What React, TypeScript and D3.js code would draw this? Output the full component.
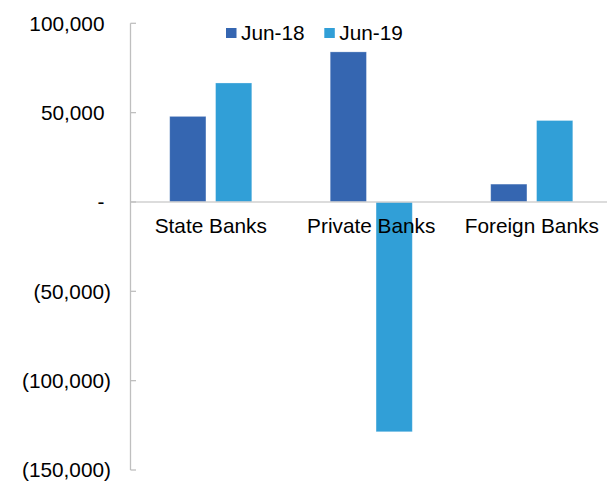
import React from "react";
import * as d3 from "d3";

const categories = ["State Banks", "Private Banks", "Foreign Banks"];
const seriesNames = ["Jun-18", "Jun-19"];
const jun18 = [47900, 84000, 10000];
const jun19 = [66600, -128600, 45600];
const yTicks = [100000, 50000, 0, -50000, -100000, -150000];
const colors = ["#3566B1", "#319FD7"];

const W = 607;
const H = 481;
const FONT = "'Liberation Sans', Arial, sans-serif";
const FS = 20.8;

function fmt(v: number): string {
  if (v === 0) return "-";
  const s = d3.format(",")(Math.abs(v));
  return v < 0 ? `(${s})` : s;
}

export default function App() {
  const series = [jun18, jun19];
  const y = d3.scaleLinear().domain([-150000, 100000]).range([470, 23.3]);
  const x0 = d3.scaleBand<string>().domain(categories).range([130.5, 612]).padding(0);
  const x1 = d3
    .scaleBand<string>()
    .domain(seriesNames)
    .range([0, x0.bandwidth()])
    .paddingInner(0.21)
    .paddingOuter(0.855);
  const axisX = 130.5;

  return (
    <svg
      width={W}
      height={H}
      style={{ position: "absolute", left: 0, top: 0, background: "#fff" }}
      fontFamily={FONT}
    >
      {categories.map((c, i) =>
        seriesNames.map((s, j) => {
          const v = series[j][i];
          const x = (x0(c) ?? 0) + (x1(s) ?? 0);
          const y0 = y(0);
          const yv = y(v);
          return (
            <rect
              key={c + s}
              x={x}
              y={Math.min(y0, yv)}
              width={x1.bandwidth()}
              height={Math.abs(yv - y0)}
              fill={colors[j]}
              stroke="#ffffff"
              strokeOpacity={0.35}
              strokeWidth={0.8}
            />
          );
        })
      )}
      <line x1={axisX} x2={W} y1={y(0)} y2={y(0)} stroke="#D0D0D0" strokeWidth={1.3} />
      <line x1={axisX} x2={axisX} y1={y(100000)} y2={y(-150000)} stroke="#BFBFBF" strokeWidth={1.3} />
      {yTicks.map((t) => (
        <g key={t}>
          <line x1={axisX} x2={axisX + 5.5} y1={y(t)} y2={y(t)} stroke="#BFBFBF" strokeWidth={1.3} />
          <text
            x={t < 0 ? 111 : 104.5}
            y={y(t)}
            dy="0.36em"
            textAnchor="end"
            fontSize={FS}
            fill="#000"
          >
            {fmt(t)}
          </text>
        </g>
      ))}
      {categories.map((c) => (
        <text
          key={c}
          x={(x0(c) ?? 0) + x0.bandwidth() / 2}
          y={233}
          textAnchor="middle"
          fontSize={FS}
          fill="#000"
        >
          {c}
        </text>
      ))}
      {seriesNames.map((s, j) => {
        const lx = [226, 324.3][j];
        return (
          <g key={s}>
            <rect x={lx} y={28} width={10.5} height={10} fill={colors[j]} />
            <text x={lx + 15} y={39.5} fontSize={FS} fill="#000">
              {s}
            </text>
          </g>
        );
      })}
    </svg>
  );
}
